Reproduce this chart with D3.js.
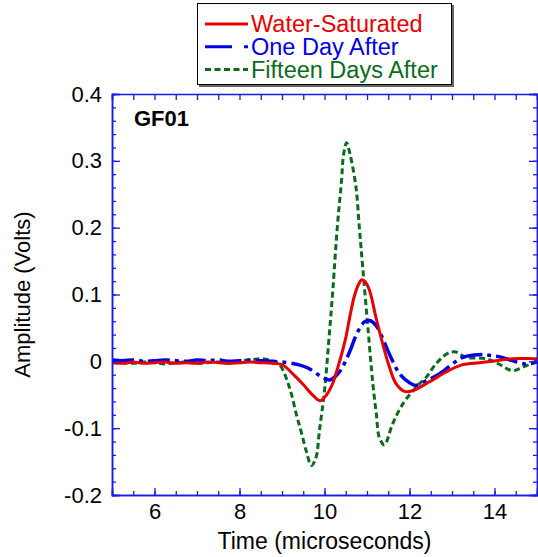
<!DOCTYPE html>
<html>
<head>
<meta charset="utf-8">
<script src="https://cdn.jsdelivr.net/npm/d3@7"></script>
<style>
	body { margin: 0; background: #fff; }
	svg { display: block; font-family: "Liberation Sans", Arial, sans-serif; }
</style>
</head>
<body>
<script>
// series: time in microseconds, amplitude in volts
const redT = [5, 5.25, 5.5, 5.75, 6, 6.25, 6.5, 6.75, 7, 7.25, 7.5, 7.75, 8, 8.25, 8.5, 8.75,
	9.0, 9.26, 9.49, 9.73, 9.9, 10.05, 10.2, 10.3, 10.4, 10.5, 10.6, 10.7, 10.8, 10.88, 10.96,
	11.06, 11.21, 11.37, 11.53, 11.68, 11.88, 12.07, 12.46, 12.86, 13.25, 13.64, 14.03, 14.42, 14.9, 15];
const redV = [-0.002, -0.003, -0.001, -0.003, -0.002, -0.001, -0.003, -0.002, -0.003, -0.001, -0.002, -0.003, -0.002, -0.001, -0.002, -0.003,
	-0.005, -0.019, -0.034, -0.051, -0.059, -0.05, -0.032, -0.012, 0.01, 0.035, 0.068, 0.097, 0.115, 0.122, 0.119,
	0.106, 0.066, 0.026, -0.009, -0.033, -0.045, -0.044, -0.031, -0.016, -0.005, -0.002, 0.001, 0.004, 0.004, 0.004];

const blueT = [5, 5.25, 5.5, 5.75, 6, 6.25, 6.5, 6.75, 7, 7.25, 7.5, 7.75, 8, 8.25, 8.5, 8.75,
	9.0, 9.38, 9.61, 9.88, 10.12, 10.31, 10.43, 10.59, 10.78, 10.94, 11.06, 11.21, 11.37, 11.49,
	11.6, 11.77, 12.0, 12.15, 12.39, 12.7, 13.01, 13.25, 13.64, 13.87, 14.1, 14.42, 14.73, 15];
const blueV = [0.002, 0.001, 0.002, 0.0, 0.001, 0.002, 0.001, 0.0, 0.002, 0.001, 0.002, 0.0, 0.001, 0.002, 0.001, 0.0,
	-0.001, -0.005, -0.01, -0.021, -0.028, -0.019, -0.008, 0.014, 0.044, 0.059, 0.061, 0.054, 0.034, 0.016,
	0.001, -0.019, -0.032, -0.036, -0.029, -0.019, -0.004, 0.006, 0.01, 0.009, 0.007, 0.001, -0.004, -0.001];

const greenT = [5, 5.25, 5.5, 5.75, 6, 6.25, 6.5, 6.75, 7, 7.25, 7.5, 7.75, 8, 8.25, 8.5, 8.75,
	8.95, 9.18, 9.34, 9.45, 9.57, 9.69, 9.8, 9.88, 10.0, 10.12, 10.2, 10.3, 10.4, 10.45, 10.52,
	10.6, 10.74, 10.82, 10.9, 11.02, 11.14, 11.22, 11.29, 11.41, 11.6, 11.84, 12.15, 12.39, 12.62,
	12.9, 13.09, 13.33, 13.8, 14.1, 14.42, 14.66, 15];
const greenV = [0.001, -0.002, -0.003, -0.001, -0.002, -0.004, -0.002, -0.001, -0.003, -0.002, -0.001, -0.003, 0.001, 0.002, 0.004, 0.001,
	-0.006, -0.04, -0.08, -0.105, -0.134, -0.156, -0.144, -0.104, -0.044, 0.046, 0.11, 0.2, 0.27, 0.31, 0.327,
	0.31, 0.261, 0.2, 0.14, 0.051, -0.035, -0.079, -0.114, -0.125, -0.094, -0.064, -0.039, -0.024, -0.004,
	0.012, 0.014, 0.006, 0.004, -0.004, -0.014, -0.009, 0.001];

const seriesNames = ['Water-Saturated', 'One Day After', 'Fifteen Days After'];
const xTicks = [6, 8, 10, 12, 14];
const yTicks = [-0.2, -0.1, 0, 0.1, 0.2, 0.3, 0.4];

const width = 538, height = 557;
const plotLeft = 112, plotRight = 537, plotTop = 94, plotBottom = 495;
const axisBlue = '#1a1ae6';

const svg = d3.select('body').append('svg')
	.attr('width', width)
	.attr('height', height);

const x = d3.scaleLinear().domain([5, 15]).range([plotLeft, plotRight]);
const y = d3.scaleLinear().domain([-0.2, 0.4]).range([plotBottom, plotTop]);

svg.append('clipPath').attr('id', 'plot')
	.append('rect')
	.attr('x', plotLeft).attr('y', plotTop)
	.attr('width', plotRight - plotLeft).attr('height', plotBottom - plotTop);

// lines
const series = [
	{ t: greenT, v: greenV, color: '#0a6b1e', width: 3, dash: '6,3.5' },
	{ t: blueT, v: blueV, color: '#0000e6', width: 3.5, dash: '22,5,4,5' },
	{ t: redT, v: redV, color: '#e60000', width: 3, dash: null }
];

const line = d3.line()
	.x(d => x(d[0]))
	.y(d => y(d[1]))
	.curve(d3.curveCatmullRom.alpha(0.5));

let lines = svg.append('g').attr('clip-path', 'url(#plot)');
series.forEach(s => {
	lines.append('path')
		.datum(d3.zip(s.t, s.v))
		.attr('d', line)
		.attr('fill', 'none')
		.attr('stroke', s.color)
		.attr('stroke-width', s.width)
		.attr('stroke-dasharray', s.dash);
});

// axes, all blue with ticks pointing in
function styleAxis(g) {
	g.select('.domain').attr('stroke', axisBlue).attr('stroke-width', 1.5);
	g.selectAll('.tick line').attr('stroke', axisBlue).attr('stroke-width', 1.3);
	g.selectAll('.tick text').attr('fill', '#000').attr('font-size', 22);
}

const xMinor = d3.range(5, 15.01, 0.5);
const yMinor = d3.range(-0.2, 0.401, 0.02);
// plain hyphen for negatives, like the original
const yFormat = d => d === 0 ? '0' : d3.format('.1f')(d).replace('\u2212', '-');

svg.append('g')
	.attr('transform', `translate(0,${plotBottom})`)
	.call(d3.axisBottom(x).tickValues(xMinor).tickSize(-4).tickFormat(''))
	.call(styleAxis);
svg.append('g')
	.attr('transform', `translate(0,${plotBottom})`)
	.call(d3.axisBottom(x).tickValues(xTicks).tickSize(-7).tickPadding(8).tickFormat(d3.format('d')))
	.call(styleAxis);

svg.append('g')
	.attr('transform', `translate(0,${plotTop})`)
	.call(d3.axisTop(x).tickValues(xMinor).tickSize(-6).tickFormat(''))
	.call(styleAxis);

svg.append('g')
	.attr('transform', `translate(${plotLeft},0)`)
	.call(d3.axisLeft(y).tickValues(yMinor).tickSize(-4).tickFormat(''))
	.call(styleAxis);
svg.append('g')
	.attr('transform', `translate(${plotLeft},0)`)
	.call(d3.axisLeft(y).tickValues(yTicks).tickSize(-8).tickPadding(10).tickFormat(yFormat))
	.call(styleAxis);

svg.append('g')
	.attr('transform', `translate(${plotRight},0)`)
	.call(d3.axisRight(y).tickValues(yMinor).tickSize(-4).tickFormat(''))
	.call(styleAxis);
svg.append('g')
	.attr('transform', `translate(${plotRight},0)`)
	.call(d3.axisRight(y).tickValues(yTicks).tickSize(-8).tickFormat(''))
	.call(styleAxis);

// titles
svg.append('text')
	.attr('x', (plotLeft + plotRight) / 2)
	.attr('y', 549)
	.attr('text-anchor', 'middle')
	.attr('font-size', 23)
	.text('Time (microseconds)');

svg.append('text')
	.attr('transform', `translate(30,${(plotTop + plotBottom) / 2}) rotate(-90)`)
	.attr('text-anchor', 'middle')
	.attr('font-size', 22)
	.text('Amplitude (Volts)');

svg.append('text')
	.attr('x', 134)
	.attr('y', 126)
	.attr('font-size', 22)
	.attr('font-weight', 'bold')
	.text('GF01');

// legend
const legend = svg.append('g');
legend.append('rect')
	.attr('x', 199).attr('y', 5)
	.attr('width', 255).attr('height', 82)
	.attr('fill', '#666');
legend.append('rect')
	.attr('x', 197.5).attr('y', 3.5)
	.attr('width', 254).attr('height', 81)
	.attr('fill', '#fff')
	.attr('stroke', '#000')
	.attr('stroke-width', 1);

const legendSeries = [series[2], series[1], series[0]];
legendSeries.forEach((s, i) => {
	let cy = 24 + i * 22.8;
	legend.append('line')
		.attr('x1', 205).attr('x2', 248)
		.attr('y1', cy).attr('y2', cy)
		.attr('stroke', s.color)
		.attr('stroke-width', 3)
		.attr('stroke-dasharray', i === 1 ? '27,12,4,20' : s.dash);
	legend.append('text')
		.attr('x', 251)
		.attr('y', cy + 8)
		.attr('font-size', 23.5)
		.attr('fill', s.color)
		.text(seriesNames[i]);
});
</script>
</body>
</html>
